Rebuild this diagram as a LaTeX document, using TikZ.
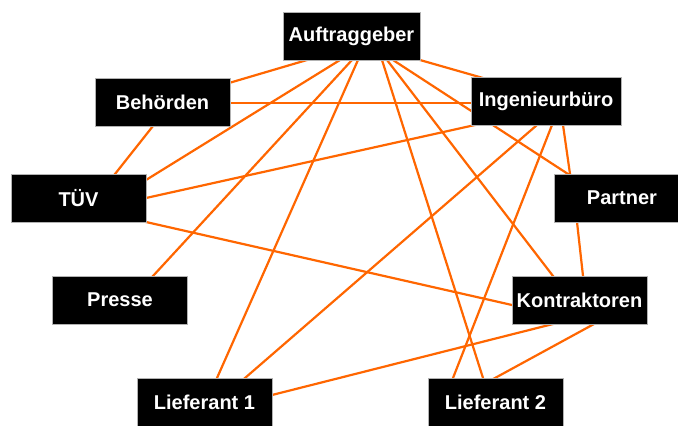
\documentclass[tikz,border=0pt]{standalone}
\usepackage{fontspec}
\setmainfont{Liberation Sans}
\usetikzlibrary{calc,backgrounds}
\definecolor{linkorange}{RGB}{255,102,0}
\tikzset{
  party/.style={fill=black, draw=gray!60, line width=0.6pt, text=white,
    font=\bfseries\fontsize{20}{24}\selectfont,
    minimum width=135pt, minimum height=48pt, inner sep=0pt},
  link/.style={draw=linkorange, line width=2.2pt,
    shorten <=-3pt, shorten >=-3pt},
}
\begin{document}
\begin{tikzpicture}[x=1pt,y=-1pt]
\path[use as bounding box, clip] (0,0) rectangle (678,426);

% stakeholders
\node[party, minimum width=137pt] (A)  at (351.5,36)  {Auftraggeber};
\node[party]                      (B)  at (162.5,102) {Behörden};
\node[party, minimum width=150pt] (I)  at (546,101.5) {Ingenieurbüro};
\node[party]                      (T)  at (78.5,198)  {TÜV};
\node[party]                      (P)  at (622,198)   {Partner};
\node[party]                      (Pr) at (120,300)   {Presse};
\node[party]                      (K)  at (579.5,300) {Kontraktoren};
\node[party]                      (L1) at (204.5,402) {Lieferant 1};
\node[party]                      (L2) at (495.5,402) {Lieferant 2};

% relations, drawn beneath the boxes
\begin{scope}[on background layer]
\fill[white] (0,0) rectangle (678,426);
\draw[link] ($(A)+(-44.5,24)$) -- ($(B)+(66.5,-19)$);
\draw[link] ($(A)+(68.5,24)$)  -- ($(I)+(-63,-23.5)$);
\draw[link] ($(A)+(-11.5,24)$) -- ($(T)+(67.5,-18)$);
\draw[link] ($(A)+(0.5,24)$)   -- ($(Pr)+(33,-24)$);
\draw[link] ($(A)+(6.5,24)$)   -- ($(L1)+(12.5,-24)$);
\draw[link] ($(A)+(30.5,24)$)  -- ($(L2)+(-12.5,-24)$);
\draw[link] ($(A)+(35.5,24)$)  -- ($(K)+(-26.5,-24)$);
\draw[link] ($(A)+(41.5,24)$)  -- ($(P)+(-54,-24)$);
\draw[link] ($(B)+(67.5,1)$)   -- ($(I)+(-75,1.5)$);
\draw[link] ($(B)+(-9.5,24)$)  -- ($(T)+(36.5,-24)$);
\draw[link] ($(I)+(-71,23.5)$) -- ($(T)+(67.5,0)$);
\draw[link] ($(I)+(-9,23.5)$)  -- ($(L1)+(40.5,-24)$);
\draw[link] ($(I)+(6,23.5)$)   -- ($(L2)+(-42.5,-24)$);
\draw[link] ($(I)+(17,23.5)$)  -- ($(P)+(-52,-24)$);
\draw[link] ($(T)+(67.5,24)$)  -- ($(K)+(-67.5,5)$);
\draw[link] ($(P)+(-45,24)$)   -- ($(K)+(3.5,-24)$);
\draw[link] ($(K)+(-26.5,24)$) -- ($(L1)+(67.5,-7)$);
\draw[link] ($(K)+(14.5,24)$)  -- ($(L2)+(-0.5,-24)$);
\end{scope}
\end{tikzpicture}
\end{document}
